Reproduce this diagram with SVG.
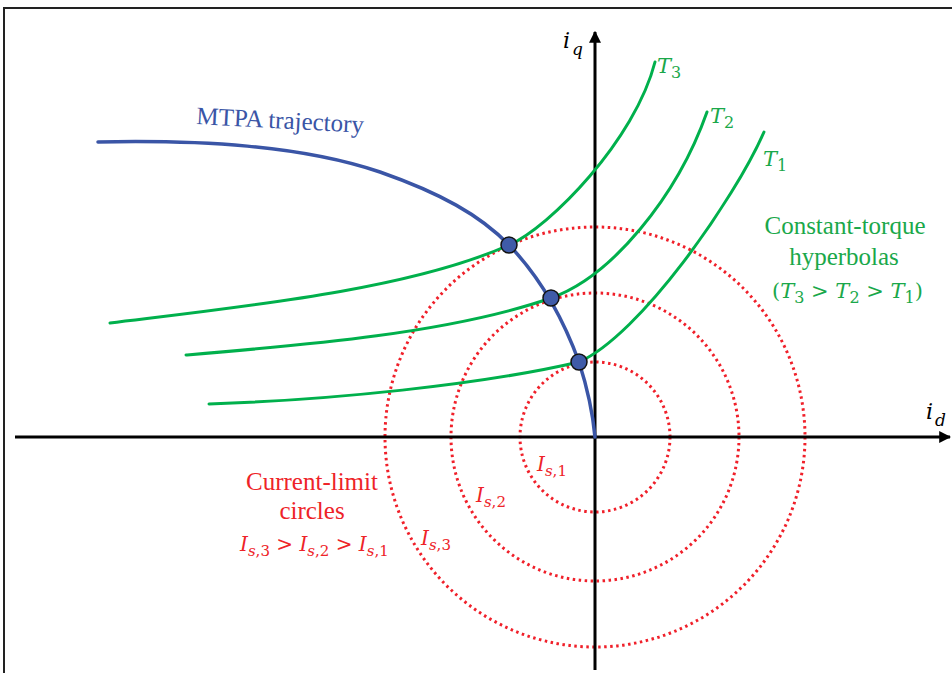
<svg xmlns="http://www.w3.org/2000/svg" width="952" height="673" viewBox="0 0 952 673">
<style>
.circ{fill:none;stroke:#f0202a;stroke-width:3;stroke-dasharray:2.5 3.5}
.tq{fill:none;stroke:#00b04c;stroke-width:3;stroke-linecap:round}
.mtpa{fill:none;stroke:#3a55a6;stroke-width:3.5;stroke-linecap:round}
.dot{fill:#3f5ba8;stroke:#111;stroke-width:1.5}
.axis{stroke:#000;stroke-width:3}
.m{font-family:"DejaVu Serif","Liberation Serif",serif;font-style:italic}
.n{font-style:normal}
.t{font-family:"Liberation Serif","DejaVu Serif",serif}
.red{fill:#ee2328}
.grn{fill:#1aa84a}
</style>
<defs>
<marker id="arr" viewBox="0 0 10 10" refX="9" refY="5" markerWidth="4" markerHeight="4" orient="auto" markerUnits="strokeWidth">
<path d="M0,0 L10,5 L0,10 z" fill="#000"/>
</marker>
</defs>
<path d="M4,673 V8 H952" fill="none" stroke="#222" stroke-width="2"/>
<g id="circles">
<circle class="circ" cx="595" cy="437" r="75"/>
<circle class="circ" cx="595" cy="437" r="144"/>
<circle class="circ" cx="595" cy="437" r="210"/>
</g>
<g id="axes">
<line class="axis" x1="15" y1="437" x2="950" y2="437" marker-end="url(#arr)"/>
<line class="axis" x1="595" y1="670" x2="595" y2="32" marker-end="url(#arr)"/>
<text class="m" x="563" y="48" font-size="22">i</text>
<text class="m" x="572" y="55" font-size="17">q</text>
<text class="m" x="926" y="419" font-size="22">i</text>
<text class="m" x="935" y="426" font-size="17">d</text>
</g>
<g id="torque">
<path class="tq" d="M110,323 C240,307 409,290 509,245 C550,227 635,140 655,62"/>
<path class="tq" d="M186,355 C306,345 451,333 551,298 C611,277 677,197 707,112"/>
<path class="tq" d="M209,404 C330,400 480,385 579,362 C640,335 734,200 764,132"/>
<text class="m grn" x="657" y="73" font-size="21">T<tspan class="n" font-size="16" dy="5">3</tspan></text>
<text class="m grn" x="710" y="123" font-size="21">T<tspan class="n" font-size="16" dy="5">2</tspan></text>
<text class="m grn" x="763" y="166" font-size="21">T<tspan class="n" font-size="16" dy="5">1</tspan></text>
</g>
<g id="mtpa">
<path class="mtpa" d="M98,142 C200,140 300,145 380,172 C440,193 480,215 509,245 C535,272 560,310 579,362 C588,390 593,415 595,437"/>
<text class="t" x="196" y="124" font-size="25" fill="#3a55a6" transform="rotate(3 196 124)">MTPA trajectory</text>
</g>
<g id="points">
<circle class="dot" cx="509" cy="245" r="8"/>
<circle class="dot" cx="551" cy="298" r="8"/>
<circle class="dot" cx="579" cy="362" r="8"/>
</g>
<g id="torque-label">
<text class="t grn" x="845" y="234" font-size="25" text-anchor="middle">Constant-torque</text>
<text class="t grn" x="844" y="265" font-size="25" text-anchor="middle">hyperbolas</text>
<text class="m grn" x="772" y="298" font-size="21"><tspan class="n">(</tspan>T<tspan class="n" font-size="16" dy="5">3</tspan><tspan dy="-5" class="n"> &gt; </tspan>T<tspan class="n" font-size="16" dy="5">2</tspan><tspan dy="-5" class="n"> &gt; </tspan>T<tspan class="n" font-size="16" dy="5">1</tspan><tspan class="n" dy="-5">)</tspan></text>
</g>
<g id="circle-label">
<text class="t red" x="312" y="490" font-size="25" text-anchor="middle">Current-limit</text>
<text class="t red" x="312" y="519" font-size="25" text-anchor="middle">circles</text>
<text class="m red" x="240" y="551" font-size="20">I<tspan font-size="15" dy="5">s</tspan><tspan class="n" font-size="15">,3</tspan><tspan dy="-5" class="n"> &gt; </tspan>I<tspan font-size="15" dy="5">s</tspan><tspan class="n" font-size="15">,2</tspan><tspan dy="-5" class="n"> &gt; </tspan>I<tspan font-size="15" dy="5">s</tspan><tspan class="n" font-size="15">,1</tspan></text>
<text class="m red" x="537" y="471" font-size="20">I<tspan font-size="15" dy="5">s</tspan><tspan class="n" font-size="15">,1</tspan></text>
<text class="m red" x="476" y="502" font-size="20">I<tspan font-size="15" dy="5">s</tspan><tspan class="n" font-size="15">,2</tspan></text>
<text class="m red" x="421" y="545" font-size="20">I<tspan font-size="15" dy="5">s</tspan><tspan class="n" font-size="15">,3</tspan></text>
</g>
</svg>
